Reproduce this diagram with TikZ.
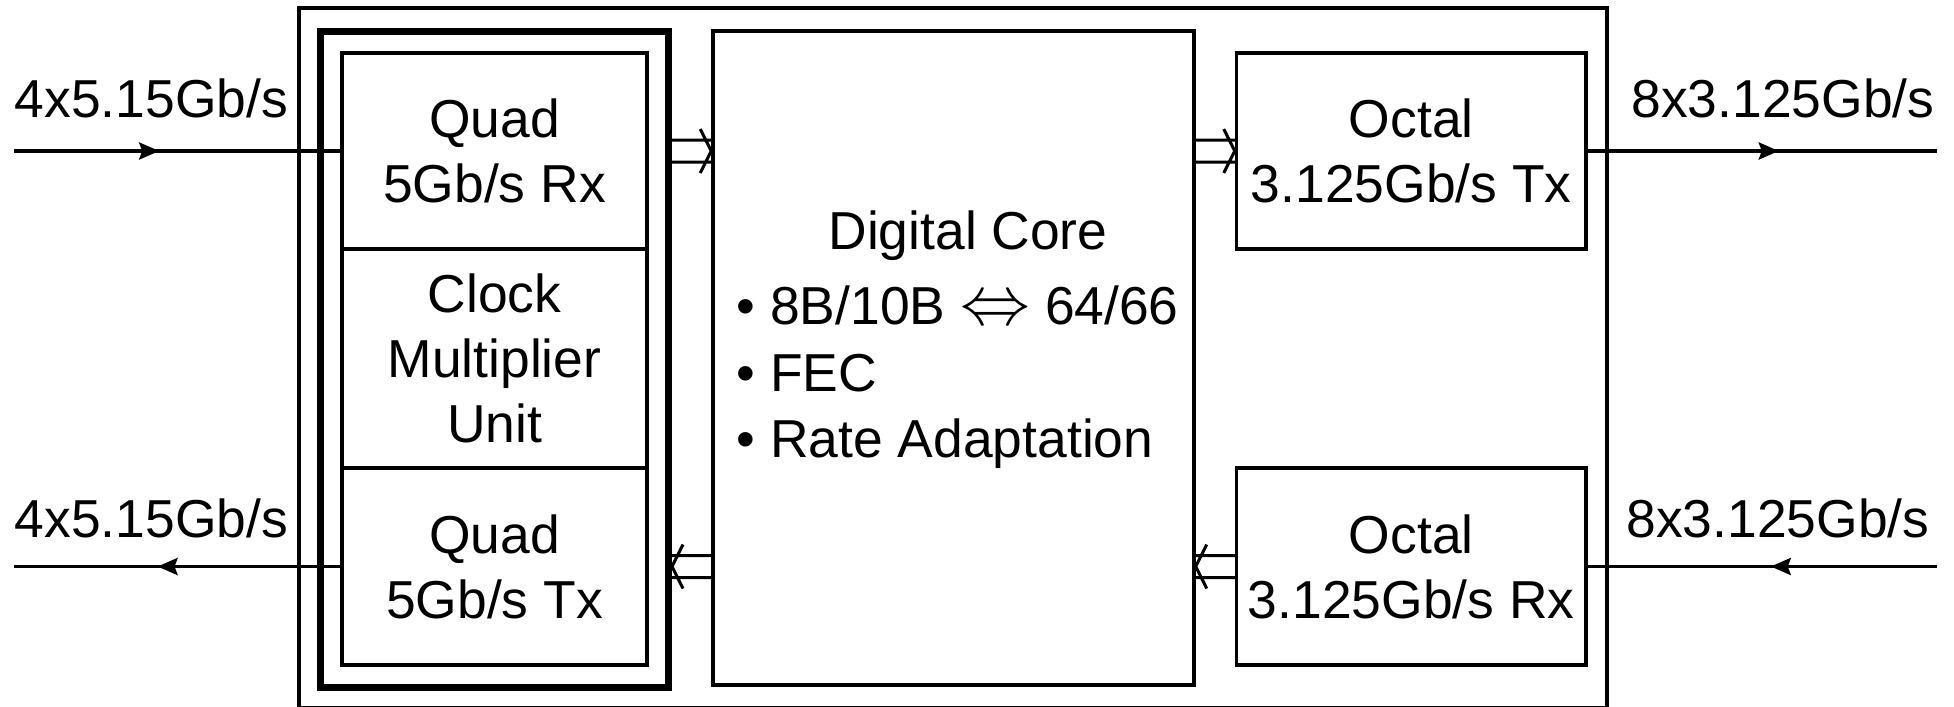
\documentclass[tikz,border=0pt]{standalone}
\usepackage{fontspec}
\setmainfont{Liberation Sans}
\usetikzlibrary{arrows.meta,calc,decorations.markings}

\begin{document}
\begin{tikzpicture}[x=1cm, y=1cm,
  every node/.style={font=\fontsize{15.2pt}{18.5pt}\selectfont},
  blk/.style={draw, line width=0.035cm, inner sep=0pt, align=center},
  rate/.style={inner sep=0pt},
  sig/.style={line width=0.035cm, postaction={decorate},
    decoration={markings, mark=at position #1 with {\arrow{Stealth[length=0.2cm, width=0.17cm, inset=0.03cm]}}}},
  bus/.style={line width=0.03cm, to path={
    ([yshift=0.11cm]\tikztostart) -- ([yshift=0.11cm]\tikztotarget)
    ([yshift=-0.11cm]\tikztostart) -- ([yshift=-0.11cm]\tikztotarget)
    ($(\tikztotarget)!0.11cm!(\tikztostart)+(0,0.22)$) -- (\tikztotarget)
      -- ($(\tikztotarget)!0.11cm!(\tikztostart)-(0,0.22)$)}}]

\useasboundingbox (0,0) rectangle (19.54,7.06);

% Chip outline (bottom edge runs off the page)
\node[blk, minimum width=13.08cm, minimum height=6.995cm] (chip) at (9.53,3.4825) {};

% Serdes group on the left
\node[blk, line width=0.07cm, minimum width=3.485cm, minimum height=6.56cm] (phy) at (4.9425,3.47) {};
\node[blk, minimum width=3.05cm, minimum height=1.96cm] (rx) at (4.945,5.55) {Quad\\5Gb/s Rx};
\node[blk, minimum width=3.05cm, minimum height=2.19cm] (cmu) at (4.945,3.475) {Clock\\Multiplier\\Unit};
\node[blk, minimum width=3.05cm, minimum height=1.97cm] (qtx) at (4.945,1.395) {Quad\\5Gb/s Tx};

% Digital core
\node[blk, minimum width=4.81cm, minimum height=6.54cm] (core) at (9.535,3.48) {};
\node[rate, anchor=base] (coretitle) at (9.68,4.57) {Digital Core};
\foreach \y/\item [count=\i] in {3.82/{8B/10B \scalebox{1.38}{$\Leftrightarrow$} 64/66}, 3.15/{FEC}, 2.49/{Rate Adaptation}}
  \node[rate, anchor=base west] (item\i) at (7.36,\y) {\textbullet\ \item};

% Octal side
\node[blk, minimum width=3.495cm, minimum height=1.96cm] (otx) at (14.1125,5.55) {Octal\\3.125Gb/s Tx};
\node[blk, minimum width=3.495cm, minimum height=1.97cm] (orx) at (14.1125,1.395) {Octal\\3.125Gb/s Rx};

% Internal buses
\draw[bus] (phy.east |- rx.east) to (core.west |- rx.east);
\draw[bus] (core.east |- otx.west) to (otx.west);
\draw[bus] (orx.west) to (core.east |- orx.west);
\draw[bus] (core.west |- qtx.east) to (phy.east |- qtx.east);

% Serial links
\coordinate (inA) at (0.14,5.55);
\coordinate (outA) at (0.14,1.395);
\coordinate (outB) at (19.37,5.55);
\coordinate (inB) at (19.37,1.395);

\draw[sig=0.445] (inA) -- (rx.west);
\draw[sig=0.56] (qtx.west) -- (outA);
\draw[sig=0.547] (otx.east) -- (outB);
\draw[sig=0.476] (inB) -- (orx.east);

\node[rate, anchor=base west] (rateinA) at (0.14,5.89) {4x5.15Gb/s};
\node[rate, anchor=base west] (rateoutA) at (0.14,1.69) {4x5.15Gb/s};
\node[rate, anchor=base east] (rateoutB) at (19.35,5.89) {8x3.125Gb/s};
\node[rate, anchor=base east] (rateinB) at (19.30,1.69) {8x3.125Gb/s};
\end{tikzpicture}
\end{document}
